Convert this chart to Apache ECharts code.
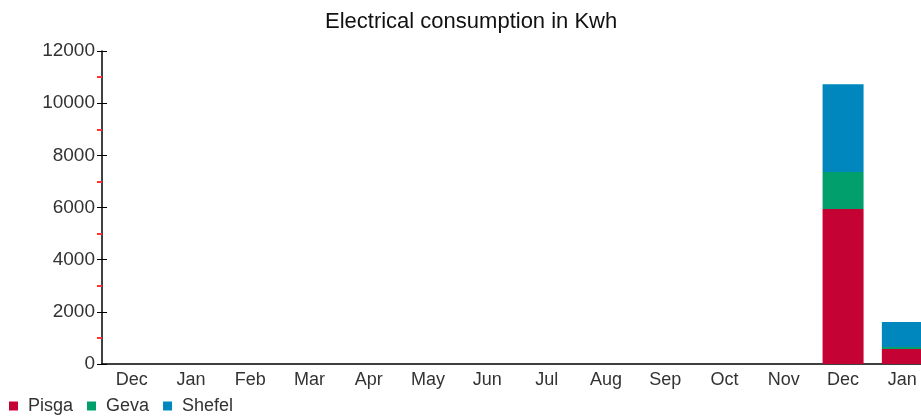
<!DOCTYPE html>
<html>
<head>
<meta charset="utf-8">
<script src="https://cdn.jsdelivr.net/npm/echarts@6/dist/echarts.min.js"></script>
<style>html,body{margin:0;padding:0;background:#fff}#c{width:921px;height:416px}</style>
</head>
<body>
<div id="c"></div>
<script>
var categories = ['Dec','Jan','Feb','Mar','Apr','May','Jun','Jul','Aug','Sep','Oct','Nov','Dec','Jan'];
var pisga  = [0,0,0,0,0,0,0,0,0,0,0,0,5940,575];
var geva   = [0,0,0,0,0,0,0,0,0,0,0,0,1420,75];
var shefel = [0,0,0,0,0,0,0,0,0,0,0,0,3370,960];
var yMin = 0, yMax = 12000, yStep = 2000;

var FONT = 'Liberation Sans, Arial, sans-serif';
var chart = echarts.init(document.getElementById('c'), null, {renderer:'canvas'});
chart.setOption({
  animation: false,
  textStyle: {fontFamily: FONT},
  color: ['#C40233','#009F6B','#0087BD'],
  title: {
    text: 'Electrical consumption in Kwh',
    left: 320, top: 6,
    textStyle: {fontFamily: FONT, fontSize: 22, fontWeight: 'normal', color: '#111'}
  },
  legend: {
    left: 4, top: 392,
    icon: 'rect', itemWidth: 9, itemHeight: 9, itemGap: 14,
    textStyle: {fontFamily: FONT, fontSize: 18, color: '#333', padding: [0,0,0,5]}
  },
  grid: {left: 102, top: 51, bottom: 52, width: 830, containLabel: false, outerBoundsMode: 'none'},
  xAxis: [{
    type: 'category', data: categories,
    axisLine: {lineStyle: {color: '#000', width: 1.5}},
    axisTick: {alignWithLabel: true, length: 4, lineStyle: {color: '#000'}},
    axisLabel: {fontFamily: FONT, fontSize: 18, color: '#333', margin: 7}
  },{
    type: 'category', data: categories, position: 'bottom',
    axisLine: {show: false},
    axisTick: {alignWithLabel: true, inside: true, length: 4, lineStyle: {color: '#000'}},
    axisLabel: {show: false}
  }],
  yAxis: [{
    type: 'value', min: yMin, max: yMax, interval: yStep, position: 'left',
    axisLine: {show: true, lineStyle: {color: '#000', width: 1.5}},
    axisTick: {show: true, length: 5, lineStyle: {color: '#000'}},
    minorTick: {show: true, splitNumber: 2, length: 5, lineStyle: {color: '#f33', width: 2}},
    splitLine: {show: false},
    axisLabel: {fontFamily: FONT, fontSize: 19, color: '#333', margin: 7, formatter: function(v){ return String(v); }}
  },{
    type: 'value', min: yMin, max: yMax, interval: yStep, position: 'left',
    axisLine: {show: false},
    axisTick: {show: true, inside: true, length: 5, lineStyle: {color: '#000'}},
    splitLine: {show: false},
    axisLabel: {show: false}
  }],
  series: [
    {name: 'Pisga', type: 'bar', stack: 'a', data: pisga, barWidth: 41},
    {name: 'Geva', type: 'bar', stack: 'a', data: geva, barWidth: 41},
    {name: 'Shefel', type: 'bar', stack: 'a', data: shefel, barWidth: 41}
  ]
});
</script>
</body>
</html>
